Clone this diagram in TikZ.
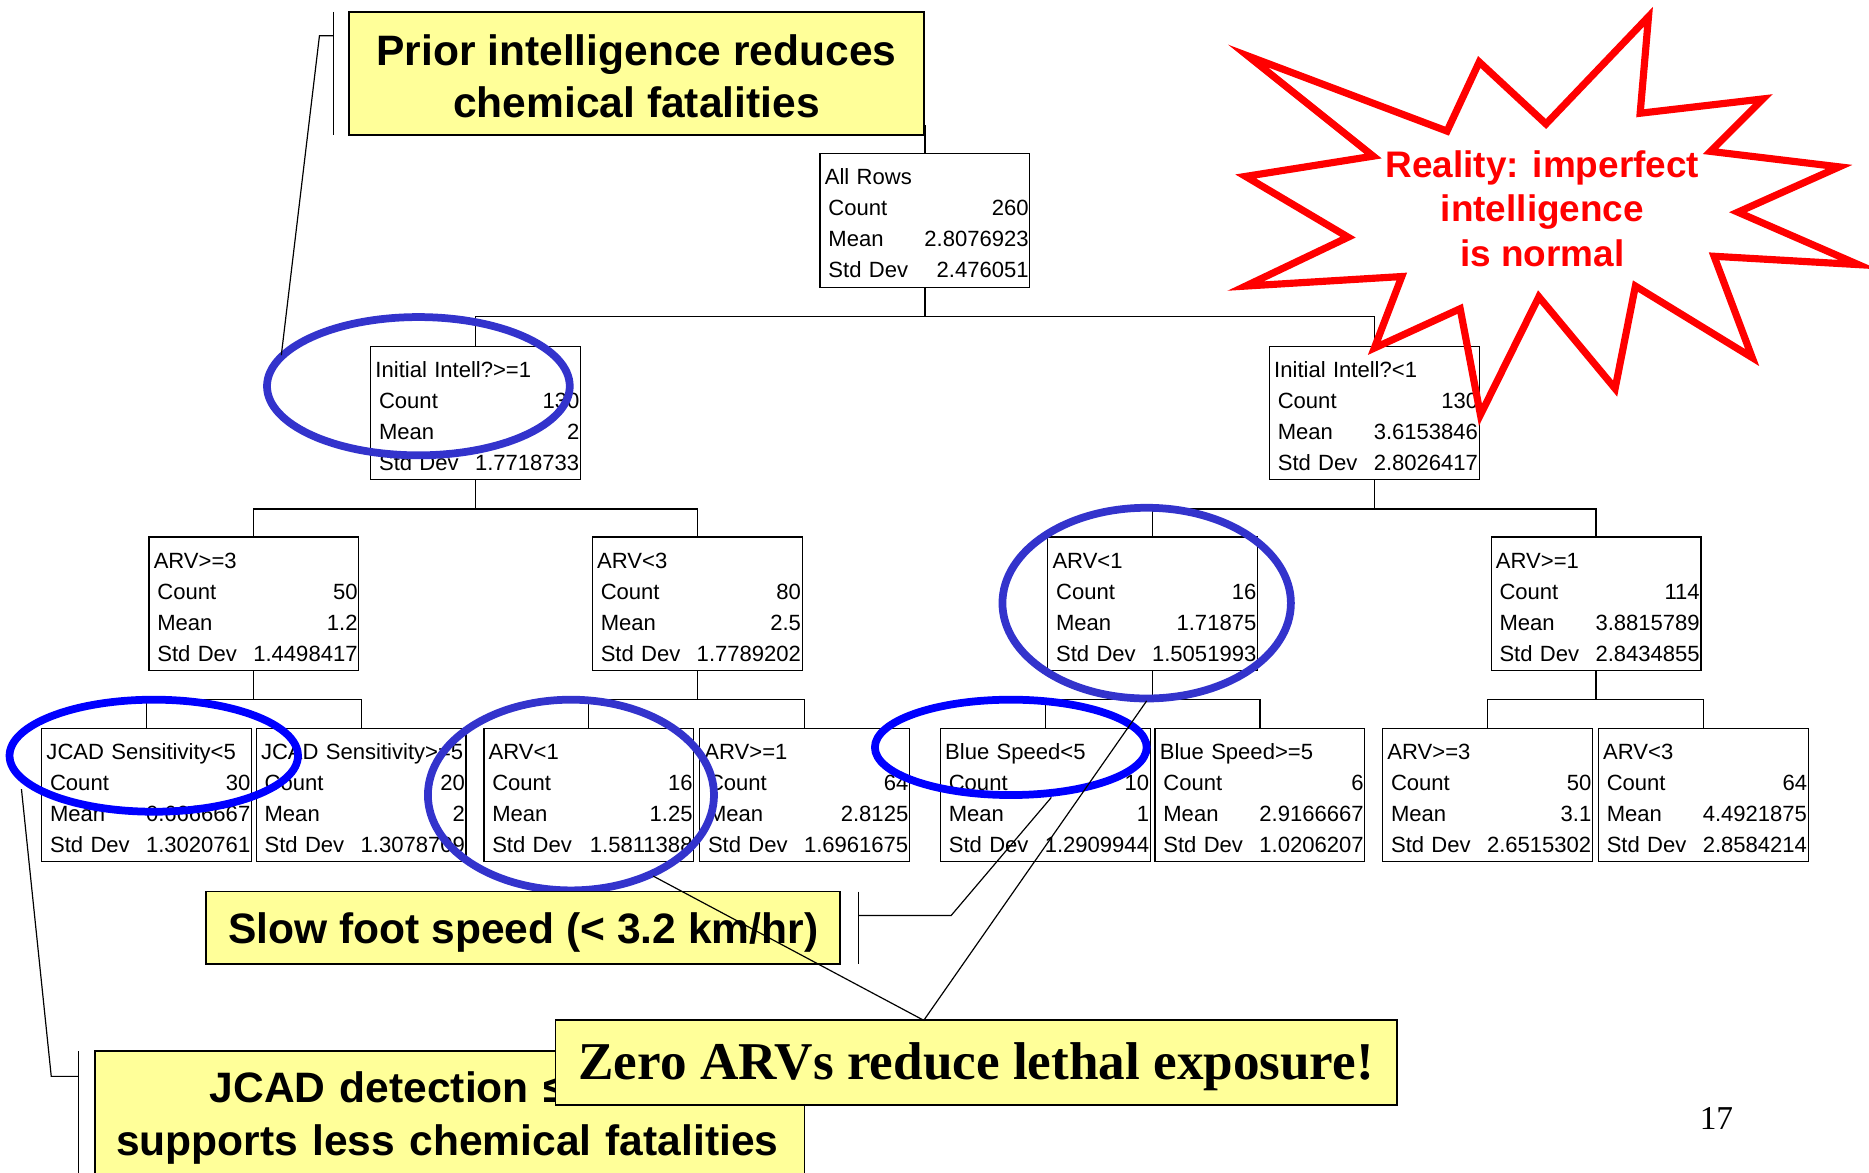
\documentclass[tikz,border=0pt]{standalone}
\usepackage{fontspec}
\setmainfont{Liberation Sans}
\newfontfamily\timesfont{Liberation Serif}

\definecolor{noteyellow}{RGB}{255,255,153}
\definecolor{ringblue}{RGB}{51,51,204}
\definecolor{ringpure}{RGB}{0,0,255}
\definecolor{burstred}{RGB}{255,0,0}

% one row of a split box: label left, value right
\newcommand{\statline}[2]{\leavevmode\hbox to 175pt{\hspace*{7pt}#1\hfill #2}}
\newcommand{\splitstats}[4]{\hspace*{4pt}\rule{0pt}{18.5pt}#1\\\statline{Count}{#2}\\\statline{Mean}{#3}\\\statline{Std Dev}{#4}}

\tikzset{
  treebox/.style={draw, line width=1pt, inner xsep=0pt, text width=176pt, minimum height=112pt, align=left, font=\fontsize{18.5}{26}\selectfont},
  branch/.style={line width=1pt},
  ring/.style={draw=ringblue, line width=6.5pt},
  brightring/.style={draw=ringpure, line width=6.5pt},
  note/.style={draw, line width=1.5pt, fill=noteyellow, inner sep=0pt, align=center, font=\fontsize{35.7}{44}\selectfont\bfseries},
  accent/.style={line width=1pt},
  leader/.style={line width=1pt},
  burst/.style={draw=burstred, line width=6pt, line join=miter},
  bursttext/.style={text=burstred, align=center, font=\fontsize{31}{37.5}\selectfont\bfseries}
}

\begin{document}
\begin{tikzpicture}[x=1pt, y=-1pt]

\useasboundingbox (0,0) rectangle (1568,984);

% Root of the partition tree
\node[treebox] (root) at (776,185) {\splitstats{All Rows}{260}{2.8076923}{2.476051}};

% First split
\node[treebox] (intYes) at (399,346.5) {\splitstats{Initial Intell?>=1}{130}{2}{1.7718733}};
\node[treebox] (intNo) at (1153,346.5) {\splitstats{Initial Intell?<1}{130}{3.6153846}{2.8026417}};

% Second split
\node[treebox] (arvHigh) at (213,506.5) {\splitstats{ARV>=3}{50}{1.2}{1.4498417}};
\node[treebox] (arvLow) at (585,506.5) {\splitstats{ARV<3}{80}{2.5}{1.7789202}};
\node[treebox] (arvZero) at (967,506.5) {\splitstats{ARV<1}{16}{1.71875}{1.5051993}};
\node[treebox] (arvSome) at (1339,506.5) {\splitstats{ARV>=1}{114}{3.8815789}{2.8434855}};

% Third split
\node[treebox] (jcadLow) at (123,667) {\splitstats{JCAD Sensitivity<5}{30}{0.6666667}{1.3020761}};
\node[treebox] (jcadHigh) at (303,667) {\splitstats{JCAD Sensitivity>=5}{20}{2}{1.3078709}};
\node[treebox] (arvNone) at (494,667) {\splitstats{ARV<1}{16}{1.25}{1.5811388}};
\node[treebox] (arvOne) at (675,667) {\splitstats{ARV>=1}{64}{2.8125}{1.6961675}};
\node[treebox] (blueSlow) at (877,667) {\splitstats{Blue Speed<5}{10}{1}{1.2909944}};
\node[treebox] (blueFast) at (1057,667) {\splitstats{Blue Speed>=5}{6}{2.9166667}{1.0206207}};
\node[treebox] (arvMany) at (1248,667) {\splitstats{ARV>=3}{50}{3.1}{2.6515302}};
\node[treebox] (arvFew) at (1429,667) {\splitstats{ARV<3}{64}{4.4921875}{2.8584214}};

% Branches
\draw[branch] (root.north) -- ++(0,-24);
\foreach \pnode/\cnode in {root/intYes, root/intNo, intYes/arvHigh, intYes/arvLow, intNo/arvZero, intNo/arvSome,
    arvHigh/jcadLow, arvHigh/jcadHigh, arvLow/arvNone, arvLow/arvOne, arvZero/blueSlow, arvZero/blueFast,
    arvSome/arvMany, arvSome/arvFew}
  \draw[branch] (\pnode.south) -- ++(0,24) -| (\cnode.north);

% Rings round the splits
\draw[ring] (351,324) ellipse [x radius=127, y radius=58];
\draw[ring] (962,506) ellipse [x radius=121, y radius=80];
\draw[ring] (479,667) ellipse [x radius=120, y radius=80];
\draw[brightring] (129,634) ellipse [x radius=121, y radius=47];
\draw[brightring] (848,627) ellipse [x radius=114, y radius=40];

% Starburst
\draw[burst] (1047,47) -- (1214,110) -- (1241,52) -- (1297,104) -- (1383,14) -- (1376,95)
  -- (1479,83) -- (1435,127) -- (1543,140) -- (1458,178) -- (1559,222) -- (1438,215)
  -- (1470,300) -- (1372,240) -- (1355,326) -- (1291,249) -- (1242,348) -- (1225,259)
  -- (1153,292) -- (1176,232) -- (1045,240) -- (1131,199) -- (1045,148) -- (1152,131) -- cycle;
\node[bursttext] (reality) at (1294,175) {Reality: imperfect\\intelligence\\is normal};

% Note on the first split
\node[note, minimum width=482, minimum height=103] (prior) at (534,61.5) {\rule{0pt}{31pt}Prior intelligence reduces\\chemical fatalities};
\draw[accent] (280,10) -- (280,113);
\coordinate (priorBar) at (280,30);
\coordinate (priorKnee) at (268,30);
\coordinate (priorTip) at (236,298);
\draw[leader] (priorBar) -- (priorKnee) -- (priorTip);

% Note on foot speed
\node[note, minimum width=532, minimum height=61] (slow) at (439,778.5) {\rule{0pt}{33pt}Slow foot speed (< 3.2 km/hr)};
\draw[accent] (720,748) -- (720,809);
\coordinate (slowBar) at (720,768);
\coordinate (slowKnee) at (798,768);
\coordinate (slowTip) at (882,669);
\draw[leader] (slowBar) -- (slowKnee) -- (slowTip);

% Note on JCAD
\node[note, align=left, text width=560, minimum width=595, minimum height=108] (jcad) at (377.5,936) {\hspace*{78.5pt}\rule{0pt}{30pt}JCAD detection ≤\\supports less chemical fatalities};
\draw[accent] (66,882) -- (66,984);
\coordinate (jcadBar) at (66,903);
\coordinate (jcadKnee) at (43,903);
\coordinate (jcadTip) at (18,662);
\draw[leader] (jcadBar) -- (jcadKnee) -- (jcadTip);

% Note on zero ARVs
\node[note, font=\timesfont\bfseries\fontsize{44.6}{50}\selectfont, minimum width=706, minimum height=71] (zero) at (819,891.5) {\rule{0pt}{38.5pt}Zero ARVs reduce lethal exposure!};
\coordinate (zeroKnee) at (775,856);
\coordinate (zeroLeft) at (548,735);
\coordinate (zeroRight) at (962,588);
\draw[leader] (zeroLeft) -- (zeroKnee) -- (zeroRight);

% Slide number
\node[font=\timesfont\fontsize{28}{28}\selectfont] (slideNo) at (1440,938) {17};

\end{tikzpicture}
\end{document}
